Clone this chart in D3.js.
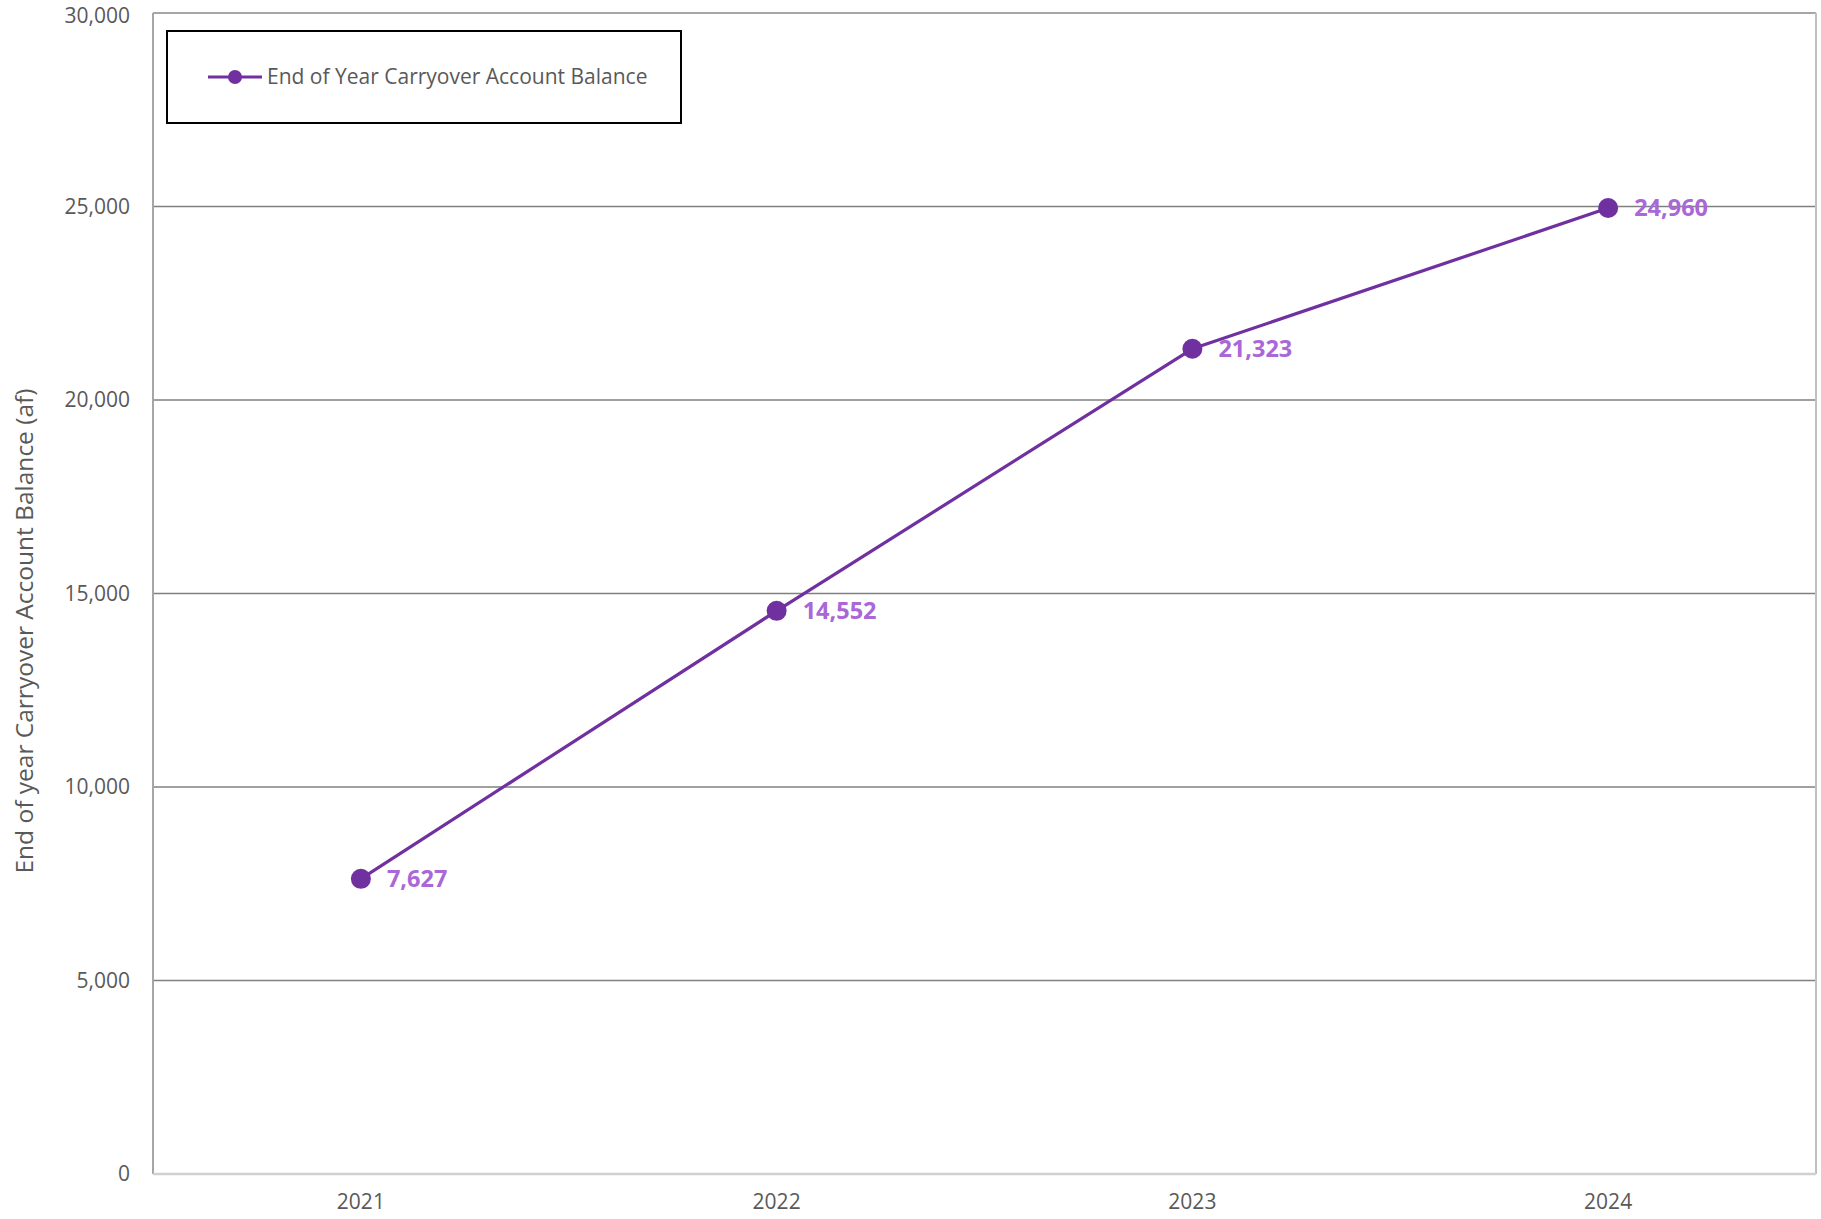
<!DOCTYPE html>
<html>
<head>
<meta charset="utf-8">
<script src="https://cdn.jsdelivr.net/npm/d3@7"></script>
<style>
  html, body { margin: 0; padding: 0; background: #fff; }
  svg { display: block; }
  svg text { font-family: "Open Sans", "Noto Sans", sans-serif; }
</style>
</head>
<body>
<svg id="chart" width="1821" height="1219"></svg>
<script>
// Carryover account balance at the end of each year (acre-feet)
const years = ["2021", "2022", "2023", "2024"];
const balances = [7627, 14552, 21323, 24960];
const yTicks = [0, 5000, 10000, 15000, 20000, 25000, 30000];
const seriesName = "End of Year Carryover Account Balance";
const yAxisTitle = "End of year Carryover Account Balance (af)";

const W = 1821, H = 1219;
const plot = { left: 153, right: 1816, top: 13, bottom: 1174 };
const lineColor = "#7030a0";
const labelColor = "#a967d8";
const textColor = "#595959";
const fontStack = '"Open Sans", "Noto Sans", sans-serif';

const svg = d3.select("#chart");

const x = d3.scaleBand().domain(years).range([plot.left, plot.right]).padding(0);
const y = d3.scaleLinear().domain([0, 30000]).range([plot.bottom, plot.top]);
const fmt = d3.format(",");

// horizontal gridlines (inner ones)
svg.append("g")
  .selectAll("line")
  .data(yTicks.filter(v => v > 0 && v < 30000))
  .join("line")
  .attr("x1", plot.left).attr("x2", plot.right)
  .attr("y1", d => y(d)).attr("y2", d => y(d))
  .attr("stroke", "#808080").attr("stroke-width", 1.5);

// plot area frame
svg.append("line")
  .attr("x1", plot.left).attr("x2", plot.right)
  .attr("y1", plot.top).attr("y2", plot.top)
  .attr("stroke", "#a6a6a6").attr("stroke-width", 2);
svg.append("line")
  .attr("x1", plot.right).attr("x2", plot.right)
  .attr("y1", plot.top).attr("y2", plot.bottom)
  .attr("stroke", "#bfbfbf").attr("stroke-width", 2);
svg.append("line")
  .attr("x1", plot.left).attr("x2", plot.left)
  .attr("y1", plot.top).attr("y2", plot.bottom)
  .attr("stroke", "#a6a6a6").attr("stroke-width", 2);
svg.append("line")
  .attr("x1", plot.left).attr("x2", plot.right)
  .attr("y1", plot.bottom).attr("y2", plot.bottom)
  .attr("stroke", "#d0d0d0").attr("stroke-width", 2.5);

// y axis
const yAxis = d3.axisLeft(y).tickValues(yTicks).tickFormat(fmt).tickSize(0).tickPadding(23);
const gy = svg.append("g").attr("transform", `translate(${plot.left},0)`).call(yAxis)
  .attr("font-family", fontStack).attr("font-size", 21);
gy.select(".domain").remove();
gy.selectAll("text").attr("fill", textColor);
// keep the top label inside the page
gy.selectAll(".tick").filter(d => d === 30000).select("text").attr("dy", "0.45em");

// x axis
const xAxis = d3.axisBottom(x).tickSize(0).tickPadding(20);
const gx = svg.append("g").attr("transform", `translate(0,${plot.bottom})`).call(xAxis)
  .attr("font-family", fontStack).attr("font-size", 21);
gx.select(".domain").remove();
gx.selectAll("text").attr("fill", textColor);

// y axis title
svg.append("text")
  .attr("transform", `translate(33,631) rotate(-90)`)
  .attr("text-anchor", "middle")
  .attr("fill", textColor)
  .style("font-size", "24.5px")
  .text(yAxisTitle);

// series
const pts = years.map((yr, i) => ({ year: yr, value: balances[i] }));
const cx = d => x(d.year) + x.bandwidth() / 2;

svg.append("path")
  .datum(pts)
  .attr("fill", "none")
  .attr("stroke", lineColor)
  .attr("stroke-width", 3.2)
  .attr("stroke-linejoin", "round")
  .attr("d", d3.line().x(cx).y(d => y(d.value)));

svg.append("g")
  .selectAll("circle")
  .data(pts)
  .join("circle")
  .attr("cx", cx)
  .attr("cy", d => y(d.value))
  .attr("r", 10)
  .attr("fill", lineColor);

// value labels
svg.append("g")
  .selectAll("text")
  .data(pts)
  .join("text")
  .attr("x", d => cx(d) + 26)
  .attr("y", d => y(d.value) + 8)
  .attr("fill", labelColor)
  .style("font-size", "23.5px")
  .style("font-weight", "bold")
  .text(d => fmt(d.value));

// legend
const lg = svg.append("g");
lg.append("rect")
  .attr("x", 167).attr("y", 31).attr("width", 514).attr("height", 92)
  .attr("fill", "#fff").attr("stroke", "#000").attr("stroke-width", 2);
lg.append("line")
  .attr("x1", 208).attr("x2", 262).attr("y1", 77).attr("y2", 77)
  .attr("stroke", lineColor).attr("stroke-width", 3.2);
lg.append("circle")
  .attr("cx", 235).attr("cy", 77).attr("r", 7)
  .attr("fill", lineColor);
lg.append("text")
  .attr("x", 267).attr("y", 84)
  .attr("fill", textColor)
  .style("font-size", "21px")
  .text(seriesName);
</script>
</body>
</html>
